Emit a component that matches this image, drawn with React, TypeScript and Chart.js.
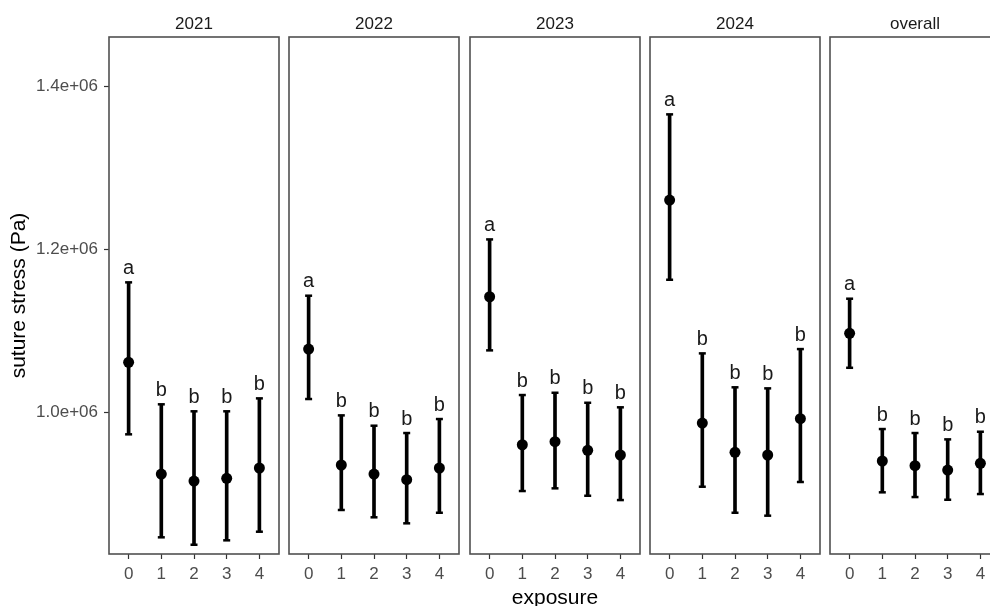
import React, { useEffect, useRef } from 'react';
import { Chart, registerables } from 'chart.js';

Chart.register(...registerables);

// ---------------- data ----------------
const PANEL_NAMES = ['2021', '2022', '2023', '2024', 'overall'];
const EXPOSURE = [0, 1, 2, 3, 4];
const X_TICK_LABELS = ['0', '1', '2', '3', '4'];
const Y_TICKS = [1.0e6, 1.2e6, 1.4e6];
const Y_TICK_LABELS = ['1.0e+06', '1.2e+06', '1.4e+06'];
const Y_MIN = 825500;
const Y_MAX = 1461000;

const MEAN_2021 = [1061100, 923800, 915200, 918500, 931200];
const LOWER_2021 = [972600, 846000, 836900, 842300, 852900];
const UPPER_2021 = [1159400, 1009500, 1000900, 1000900, 1016800];
const LETTERS_2021 = ['a', 'b', 'b', 'b', 'b'];

const MEAN_2022 = [1077400, 934900, 923800, 916800, 931200];
const LOWER_2022 = [1016000, 879600, 870600, 863200, 876200];
const UPPER_2022 = [1143000, 995900, 983200, 974200, 991400];
const LETTERS_2022 = ['a', 'b', 'b', 'b', 'b'];

const MEAN_2023 = [1141700, 959800, 963500, 952900, 947200];
const LOWER_2023 = [1075800, 902900, 906200, 897100, 891800];
const UPPER_2023 = [1212200, 1020900, 1023700, 1011400, 1005800];
const LETTERS_2023 = ['a', 'b', 'b', 'b', 'b'];

const MEAN_2024 = [1260500, 986500, 950500, 947200, 991800];
const LOWER_2024 = [1162600, 908200, 876200, 872600, 914000];
const UPPER_2024 = [1365900, 1072100, 1030400, 1029100, 1077400];
const LETTERS_2024 = ['a', 'b', 'b', 'b', 'b'];

const MEAN_OVERALL = [1096700, 939800, 934000, 928700, 936900];
const LOWER_OVERALL = [1054400, 901300, 895500, 892200, 899200];
const UPPER_OVERALL = [1139300, 979100, 974200, 966400, 975800];
const LETTERS_OVERALL = ['a', 'b', 'b', 'b', 'b'];

const MEANS = [MEAN_2021, MEAN_2022, MEAN_2023, MEAN_2024, MEAN_OVERALL];
const LOWERS = [LOWER_2021, LOWER_2022, LOWER_2023, LOWER_2024, LOWER_OVERALL];
const UPPERS = [UPPER_2021, UPPER_2022, UPPER_2023, UPPER_2024, UPPER_OVERALL];
const LETTERS = [LETTERS_2021, LETTERS_2022, LETTERS_2023, LETTERS_2024, LETTERS_OVERALL];

// ---------------- layout ----------------
const FONT = '"Liberation Sans", Arial, Helvetica, sans-serif';
const PANEL_LEFTS = [109, 289, 470, 650, 830];
const PANEL_W = 170;
const PANEL_TOP = 37;
const PANEL_BOTTOM = 554;
const CANVAS_H = 620;
const Y_AXIS_W = 109;
const PAD = 5;

function Panel({ idx }: { idx: number }) {
  const ref = useRef<HTMLCanvasElement | null>(null);
  const first = idx === 0;
  const left = PANEL_LEFTS[idx];
  const canvasLeft = first ? 0 : left - PAD;
  const canvasW = first ? left + PANEL_W + PAD : PANEL_W + 2 * PAD;

  useEffect(() => {
    if (!ref.current) return;
    const mean = MEANS[idx];
    const lower = LOWERS[idx];
    const upper = UPPERS[idx];
    const letters = LETTERS[idx];
    const name = PANEL_NAMES[idx];

    const facet = {
      id: 'facet' + idx,
      afterDatasetsDraw(chart: any) {
        const { ctx, chartArea: a, scales } = chart;
        const xs = scales.x;
        const ys = scales.y;
        ctx.save();
        ctx.fillStyle = '#1a1a1a';
        ctx.font = `20px ${FONT}`;
        ctx.textAlign = 'center';
        ctx.textBaseline = 'alphabetic';
        letters.forEach((l: string, k: number) => {
          ctx.fillText(l, xs.getPixelForValue(EXPOSURE[k]), ys.getPixelForValue(upper[k]) - 8.5);
        });
        ctx.strokeStyle = '#505050';
        ctx.lineWidth = 1.6;
        ctx.strokeRect(a.left, a.top, a.right - a.left, a.bottom - a.top);
        ctx.fillStyle = '#1a1a1a';
        ctx.font = `17px ${FONT}`;
        ctx.textBaseline = 'middle';
        ctx.fillText(name, (a.left + a.right) / 2, a.top - 12.5);
        ctx.restore();
      },
    };

    const chart = new Chart(ref.current, {
      type: 'bar',
      data: {
        datasets: [
          {
            type: 'line',
            data: EXPOSURE.map((x, k) => ({ x, y: mean[k] })),
            showLine: false,
            pointStyle: 'circle',
            pointRadius: 5.5,
            pointBackgroundColor: '#000',
            pointBorderColor: '#000',
            pointBorderWidth: 0,
            order: 1,
          } as any,
          {
            type: 'line',
            data: EXPOSURE.map((x, k) => ({ x, y: upper[k] })),
            showLine: false,
            pointStyle: 'line',
            pointRadius: 3.5,
            pointBorderWidth: 2.5,
            pointBorderColor: '#000',
            order: 2,
          } as any,
          {
            type: 'line',
            data: EXPOSURE.map((x, k) => ({ x, y: lower[k] })),
            showLine: false,
            pointStyle: 'line',
            pointRadius: 3.5,
            pointBorderWidth: 2.5,
            pointBorderColor: '#000',
            order: 3,
          } as any,
          {
            type: 'bar',
            data: EXPOSURE.map((x, k) => ({ x, y: [lower[k], upper[k]] })),
            backgroundColor: '#000',
            borderWidth: 0,
            barThickness: 3,
            order: 4,
          } as any,
        ],
      },
      options: {
        animation: false,
        responsive: false,
        devicePixelRatio: 1,
        layout: {
          autoPadding: false,
          padding: { top: PANEL_TOP, left: first ? 0 : PAD, right: PAD, bottom: 0 },
        },
        plugins: { legend: { display: false }, tooltip: { enabled: false }, title: { display: false } },
        scales: {
          x: {
            type: 'linear',
            offset: false,
            min: -0.6,
            max: 4.6,
            afterBuildTicks: (s: any) => {
              s.ticks = EXPOSURE.map((v) => ({ value: v }));
            },
            afterFit: (s: any) => {
              s.height = CANVAS_H - PANEL_BOTTOM;
              s.paddingLeft = 0;
              s.paddingRight = 0;
            },
            ticks: {
              callback: (v: any) => {
                const i = EXPOSURE.indexOf(Number(v));
                return i >= 0 ? X_TICK_LABELS[i] : '';
              },
              font: { family: FONT, size: 17 },
              color: '#4d4d4d',
              padding: 5,
              maxRotation: 0,
              autoSkip: false,
            },
            grid: { offset: false, drawOnChartArea: false, drawTicks: true, tickLength: 5, tickColor: '#333333', tickWidth: 1.2 },
            border: { display: false },
            title: {
              display: idx === 2,
              text: 'exposure',
              font: { family: FONT, size: 21 },
              color: '#000',
              padding: { top: 0, bottom: 9 },
            },
          },
          y: {
            type: 'linear',
            display: first,
            min: Y_MIN,
            max: Y_MAX,
            afterBuildTicks: (s: any) => {
              s.ticks = Y_TICKS.map((v) => ({ value: v }));
            },
            afterFit: (s: any) => {
              s.width = first ? Y_AXIS_W : 0;
              s.paddingTop = 0;
              s.paddingBottom = 0;
            },
            ticks: {
              callback: (v: any) => {
                const i = Y_TICKS.indexOf(Number(v));
                return i >= 0 ? Y_TICK_LABELS[i] : '';
              },
              font: { family: FONT, size: 17 },
              color: '#4d4d4d',
              padding: 6,
            },
            grid: { drawOnChartArea: false, drawTicks: true, tickLength: 5, tickColor: '#333333', tickWidth: 1.2 },
            border: { display: false },
            title: {
              display: true,
              text: 'suture stress (Pa)',
              font: { family: FONT, size: 21 },
              color: '#000',
              padding: { top: 6.5, bottom: 0 },
            },
          },
        },
      } as any,
      plugins: [facet],
    });
    return () => chart.destroy();
  }, [idx]);

  return (
    <canvas
      ref={ref}
      width={canvasW}
      height={CANVAS_H}
      style={{ position: 'absolute', left: canvasLeft, top: 0, width: canvasW, height: CANVAS_H }}
    />
  );
}

export default function App() {
  return (
    <div
      style={{
        position: 'absolute',
        left: 0,
        top: 0,
        width: 990,
        height: 606,
        overflow: 'hidden',
        background: '#ffffff',
      }}
    >
      {PANEL_NAMES.map((_, i) => (
        <Panel key={i} idx={i} />
      ))}
    </div>
  );
}
